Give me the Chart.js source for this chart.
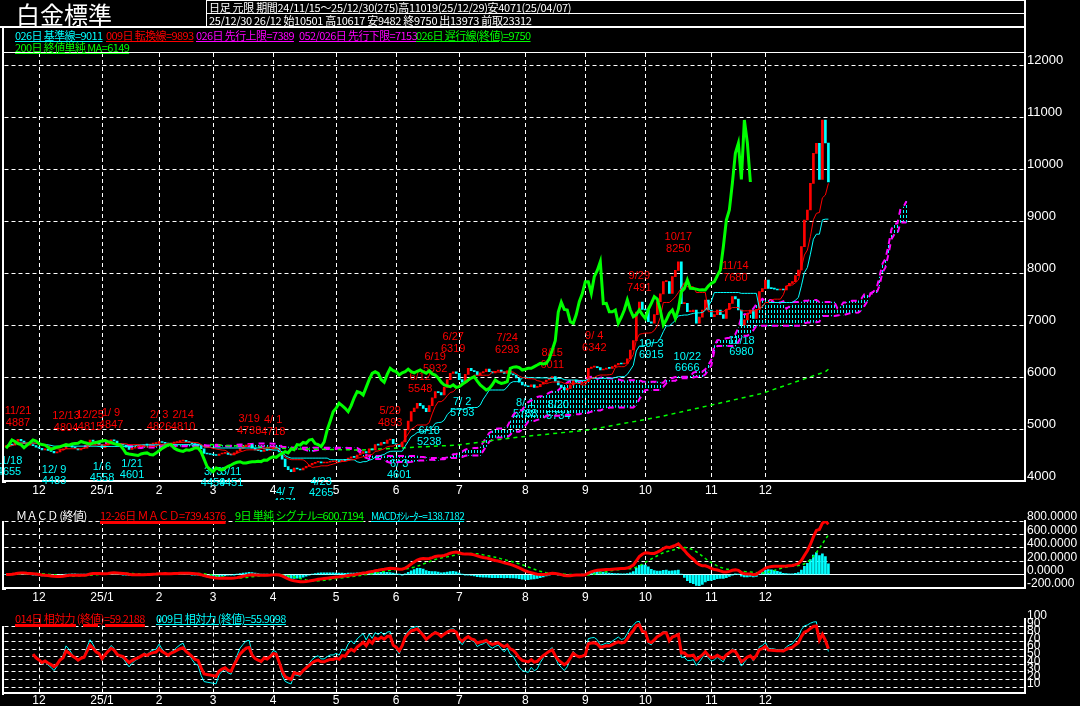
<!DOCTYPE html>
<html lang="ja">
<head>
<meta charset="utf-8">
<title>白金標準</title>
<script src="https://cdn.jsdelivr.net/npm/chart.js@4.4.1/dist/chart.umd.min.js"></script>
<style>
  html, body { margin: 0; padding: 0; background: #000; }
  body { position: relative; width: 1080px; height: 706px; overflow: hidden; font-family: "Noto Sans CJK JP", sans-serif; }
  canvas { position: absolute; left: 0; }
  #mainChart { top: 0; }
  #macdChart { top: 500px; }
  #rsiChart { top: 606px; }
  .t { position: absolute; white-space: nowrap; font-size: 11px; line-height: 12px; letter-spacing: -0.6px; color: #fff; z-index: 2; }
  .u { text-decoration: underline; text-underline-offset: 1px; }
  .thick { text-decoration-thickness: 3px; }
  .ln { position: absolute; background: #fff; z-index: 2; }
  .title { position: absolute; left: 16px; top: 0; font-size: 24px; line-height: 27px; color: #fff; z-index: 2; }
</style>
</head>
<body>
<canvas id="mainChart" width="1080" height="500"></canvas>
<canvas id="macdChart" width="1080" height="106"></canvas>
<canvas id="rsiChart" width="1080" height="100"></canvas>

<div class="title">白金標準</div>

<!-- header box and panel borders -->
<div class="ln" style="left:206px;top:0;width:820px;height:1px"></div>
<div class="ln" style="left:206px;top:13px;width:820px;height:1px"></div>
<div class="ln" style="left:0;top:26px;width:1026px;height:2px"></div>
<div class="ln" style="left:206px;top:0;width:1px;height:27px"></div>
<div class="ln" style="left:1024px;top:0;width:2px;height:54px"></div>
<div class="ln" style="left:2px;top:52px;width:1024px;height:1px"></div>
<div class="ln" style="left:2px;top:27px;width:2px;height:456px"></div>
<div class="ln" style="left:2px;top:481px;width:4px;height:2px"></div>
<div class="ln" style="left:2px;top:521px;width:2px;height:69px"></div>
<div class="ln" style="left:2px;top:588px;width:4px;height:2px"></div>
<div class="ln" style="left:2px;top:626px;width:2px;height:69px"></div>
<div class="ln" style="left:2px;top:692px;width:4px;height:2px"></div>

<div class="t" style="left:209px;top:1px;letter-spacing:-0.3px">日足 元限 期間24/11/15～25/12/30(275)高11019(25/12/29)安4071(25/04/07)</div>
<div class="t" style="left:209px;top:14px;letter-spacing:-0.3px">25/12/30 26/12 始10501 高10617 安9482 終9750 出13973 前取23312</div>

<div class="t u" style="left:15px;top:29px;color:#00ffff">026日 基準線=9011</div>
<div class="t u" style="left:106px;top:29px;color:#ff0000">009日 転換線=9893</div>
<div class="t u" style="left:196px;top:29px;color:#ff00ff">026日 先行上限=7389</div>
<div class="t u" style="left:299px;top:29px;color:#ff00ff">052/026日 先行下限=7153</div>
<div class="t u" style="left:416px;top:29px;color:#00ff00">026日 遅行線(終値)=9750</div>
<div class="t u" style="left:15px;top:41px;color:#00ff00">200日 終値単純 MA=6149</div>

<div class="t" style="left:16px;top:509px">ＭＡＣＤ (終値)</div>
<div class="t u thick" style="left:100px;top:509px;color:#ff0000">12-26日 ＭＡＣＤ=739.4376</div>
<div class="t u" style="left:235px;top:509px;color:#00ff00">9日 単純 シグナル=600.7194</div>
<div class="t u" style="left:371px;top:510px;color:#00ffff;font-size:10px">MACDｵｼﾚｰﾀｰ=138.7182</div>

<div class="t u thick" style="left:15px;top:612px;color:#ff0000">014日 相対力 (終値)=59.2188</div>
<div class="t u" style="left:156px;top:612px;color:#00ffff">009日 相対力 (終値)=55.9098</div>

<script>
const closes = [
    // 2024 Nov
    4660, 4700, 4690, 4760, 4800, 4770, 4720, 4690, 4700, 4680, 4650,
    // Dec
    4630, 4600, 4615, 4590, 4570, 4540, 4560, 4600, 4620, 4700, 4680,
    4650, 4630, 4600, 4620, 4629, 4700, 4788, 4760, 4720, 4700,
    // 2025 Jan
    4640, 4690, 4740, 4790, 4770, 4720, 4700, 4690, 4650, 4608,
    4630, 4650, 4660, 4680, 4700, 4690, 4710, 4720, 4725,
    // Feb
    4760, 4740, 4725, 4710, 4730, 4740, 4756, 4770, 4780,
    4756, 4740, 4720, 4700, 4692, 4620, 4532, 4520, 4510,
    // Mar
    4500, 4490, 4520, 4532, 4540, 4510, 4500, 4540, 4580, 4628,
    4660, 4692, 4700, 4635, 4600, 4583, 4570, 4600, 4590, 4610,
    // Apr
    4640, 4635, 4560, 4420, 4276, 4220, 4180, 4250, 4230, 4212, 4250,
    4280, 4308, 4340, 4360, 4371, 4346, 4346, 4360, 4371, 4371,
    // May
    4380, 4372, 4404, 4398, 4440, 4467, 4455, 4500, 4530, 4564,
    4540, 4620, 4600, 4700, 4690, 4740, 4725, 4788, 4800, 4720,
    // Jun
    4700, 4660, 4750, 4980, 5150, 5333, 5400, 5494, 5450, 5398, 5333,
    5450, 5600, 5718, 5700, 5654, 5800, 5950, 6071, 6100, 6071,
    // Jul
    5950, 5900, 6050, 6167, 6120, 6103, 6038, 6080, 6103, 6150, 6103,
    6080, 6110, 6134, 6100, 6071, 6120, 6060, 6038, 5980, 5900, 5846,
    // Aug
    5830, 5813, 5850, 5800, 5813, 5860, 5900, 5942, 5980, 6006,
    5920, 5846, 5800, 5750, 5780, 5850, 5942, 5900, 5878, 5890,
    // Sep
    5910, 6167, 6190, 6198, 6180, 6134, 6150, 6170, 6167, 6200,
    6230, 6263, 6250, 6263, 6350, 6519, 6700, 7250, 7440, 7300,
    // Oct
    7288, 7063, 7033, 7200, 7448, 7600, 7833, 7833, 7609, 7929, 8050,
    8217, 7410, 7417, 7256, 7256, 7288, 7033, 7150, 7288, 7480, 7288,
    // Nov
    7160, 7200, 7288, 7200, 7128, 7300, 7417, 7545, 7500,
    7288, 7000, 7100, 7224, 7288, 7128, 7300, 7641, 7700,
    // Dec
    7865, 7705, 7700, 7690, 7673, 7680, 7673, 7750, 7801, 7833, 7950,
    8058, 8506, 9019, 9212, 9724, 10301, 10494, 9800, 10942, 10501, 9750
];

// month ticks (session index of the first trading day)
const monthIdx = [11, 32, 51, 69, 89, 110, 130, 151, 173, 193, 213, 235, 253];
const monthText = ['12', '25/1', '2', '3', '4', '5', '6', '7', '8', '9', '10', '11', '12'];

// value-axis ticks
const priceTicks = [4000, 5000, 6000, 7000, 8000, 9000, 10000, 11000, 12000];
const macdTicks = [-200, 0, 200, 400, 600, 800];
const rsiTicks = [10, 20, 30, 40, 50, 60, 70, 80, 90, 100];

// 200-day MA (read at a few points)
const ma200Idx = [68, 95, 118, 150, 159, 172, 194, 218, 238, 252, 273, 274];
const ma200Val = [4700, 4620, 4596, 4690, 4756, 4852, 4980, 5237, 5500, 5686, 6102, 6149];

// marked highs / lows
const hiIdx = [4, 20, 28, 35, 51, 59, 81, 89, 128, 138, 143, 149, 167, 182, 196, 211, 224, 243];
const hiVal = [4887, 4804, 4815, 4847, 4826, 4810, 4738, 4718, 4893, 5548, 5932, 6319, 6293, 6011, 6342, 7491, 8250, 7680];
const hiDate = ['11/21', '12/13', '12/25', '1/ 9', '2/ 3', '2/14', '3/19', '4/ 1', '5/29', '6/12', '6/19', '6/27', '7/24', '8/15', '9/ 4', '9/29', '10/17', '11/14'];
const loIdx = [1, 16, 32, 42, 69, 75, 93, 105, 131, 141, 152, 173, 184, 215, 227, 245];
const loVal = [4655, 4483, 4558, 4601, 4459, 4451, 4071, 4265, 4601, 5238, 5793, 5788, 5734, 6915, 6666, 6980];
const loDate = ['11/18', '12/ 9', '1/ 6', '1/21', '3/ 3', '3/11', '4/ 7', '4/23', '6/ 3', '6/18', '7/ 2', '8/ 1', '8/20', '10/ 3', '10/22', '11/18'];

const SLOTS = 340;
const LEAD = 26;
const RED = '#ff0000', CYAN = '#00ffff', MAGENTA = '#ff00ff', GREEN = '#00ff00', WHITE = '#ffffff';

const blank = () => new Array(SLOTS).fill(null);
const slotLabels = new Array(SLOTS).fill('');
monthIdx.forEach((s, i) => { slotLabels[s] = monthText[i]; });

const opens = closes.map((c, i) => (i === 0 ? c : closes[i - 1]));

function windowMid(d, n) {
    let hi = -Infinity, lo = Infinity;
    for (let i = Math.max(0, d - n + 1); i <= d; i++) {
        hi = Math.max(hi, opens[i], closes[i]);
        lo = Math.min(lo, opens[i], closes[i]);
    }
    return (hi + lo) / 2;
}

// Ichimoku
const tenkan = blank(), kijun = blank(), spanUp = blank(), spanDn = blank(), cloud = blank(), chikou = blank();
const candles = blank(), candleColors = new Array(SLOTS).fill(RED);
closes.forEach((c, d) => {
    tenkan[d] = windowMid(d, 9);
    kijun[d] = windowMid(d, 26);
    const a = (tenkan[d] + kijun[d]) / 2;
    const b = windowMid(d, 52);
    spanUp[d + LEAD] = Math.max(a, b);
    spanDn[d + LEAD] = Math.min(a, b);
    cloud[d + LEAD] = [spanDn[d + LEAD], spanUp[d + LEAD]];
    if (d >= LEAD) chikou[d - LEAD] = c;
    candles[d] = [opens[d], c];
    candleColors[d] = c >= opens[d] ? RED : CYAN;
});

const ma200 = blank();
ma200Idx.forEach((s, i) => { ma200[s] = ma200Val[i]; });

// MACD 12-26, simple 9 signal
const macd = blank(), signal = blank(), hist = blank();
let e12 = closes[0], e26 = closes[0];
closes.forEach((c, d) => {
    e12 += (c - e12) * 2 / 13;
    e26 += (c - e26) * 2 / 27;
    macd[d] = e12 - e26;
    const from = Math.max(0, d - 8);
    let sum = 0;
    for (let i = from; i <= d; i++) sum += macd[i];
    signal[d] = sum / (d - from + 1);
    hist[d] = macd[d] - signal[d];
});

// relative strength (smoothed averages of gains / losses), shown once the window has filled
function rsi(n) {
    const out = blank();
    let up = 0, dn = 0;
    for (let d = 1; d < closes.length; d++) {
        const ch = closes[d] - closes[d - 1];
        const k = Math.min(d, n);
        up = (up * (k - 1) + Math.max(ch, 0)) / k;
        dn = (dn * (k - 1) + Math.max(-ch, 0)) / k;
        if (d >= 9) out[d] = up + dn === 0 ? 50 : up / (up + dn) * 100;
    }
    return out;
}
const rsi14 = rsi(14), rsi9 = rsi(9);

Chart.defaults.elements.point.radius = 0;
Chart.defaults.elements.line.tension = 0;
Chart.defaults.color = WHITE;

const narrow = size => ({ family: '"Liberation Sans Narrow", "Liberation Sans", sans-serif', size: size });
const fixedTicks = list => (s => { s.ticks = list.map(v => ({ value: v })); });

const xScale = (height, pad) => ({
    type: 'category',
    offset: true,
    grid: {
        offset: false,
        drawTicks: false,
        color: WHITE,
        lineWidth: ctx => (ctx.tick && ctx.tick.label ? 1 : 0)
    },
    border: { color: WHITE, width: 2, dash: [4, 3] },
    ticks: { autoSkip: false, maxRotation: 0, minRotation: 0, padding: pad, color: WHITE, font: narrow(12) },
    afterFit: s => { s.height = height; }
});

const baseOptions = (padTop, scales) => ({
    responsive: false,
    animation: false,
    devicePixelRatio: 1,
    events: [],
    layout: { padding: { left: 4.5, top: padTop, right: 0, bottom: 0 } },
    plugins: { legend: { display: false }, tooltip: { enabled: false } },
    scales: scales
});

// high / low text marks
const priceLabels = {
    id: 'priceLabels',
    beforeDatasetsDraw(chart) {
        const { ctx, scales: { x, y } } = chart;
        ctx.save();
        ctx.font = '11px "Liberation Sans", sans-serif';
        ctx.textAlign = 'center';
        ctx.textBaseline = 'bottom';
        ctx.fillStyle = RED;
        hiIdx.forEach((d, i) => {
            const px = x.getPixelForValue(d);
            const py = y.getPixelForValue(hiVal[i]);
            ctx.fillText(hiDate[i], px, py - 18);
            ctx.fillText(String(hiVal[i]), px, py - 6);
        });
        ctx.textBaseline = 'top';
        ctx.fillStyle = CYAN;
        loIdx.forEach((d, i) => {
            const px = x.getPixelForValue(d);
            const py = y.getPixelForValue(loVal[i]);
            ctx.fillText(loDate[i], px, py + 9);
            ctx.fillText(String(loVal[i]), px, py + 20);
        });
        ctx.restore();
    }
};

// cloud hatch: short vertical cyan dashes, one column per session
const mainCtx = document.getElementById('mainChart').getContext('2d');
const tile = document.createElement('canvas');
tile.width = 3;
tile.height = 5;
const tg = tile.getContext('2d');
tg.fillStyle = CYAN;
tg.fillRect(0, 0, 1, 3);
const hatch = mainCtx.createPattern(tile, 'repeat');

new Chart(mainCtx, {
    type: 'bar',
    data: {
        labels: slotLabels,
        datasets: [
            { type: 'line', data: chikou, borderColor: GREEN, borderWidth: 3, order: 0 },
            { type: 'line', data: tenkan, borderColor: RED, borderWidth: 1, order: 1 },
            { type: 'line', data: kijun, borderColor: CYAN, borderWidth: 1, order: 2 },
            { type: 'bar', data: candles, backgroundColor: candleColors, barThickness: 2, minBarLength: 1, grouped: false, order: 3 },
            { type: 'line', data: ma200, borderColor: GREEN, borderWidth: 1.5, borderDash: [4, 4], spanGaps: true, order: 4 },
            { type: 'line', data: spanUp, borderColor: MAGENTA, borderWidth: 2, borderDash: [6, 5], order: 5 },
            { type: 'line', data: spanDn, borderColor: MAGENTA, borderWidth: 2, borderDash: [6, 5], order: 5 },
            { type: 'bar', data: cloud, backgroundColor: hatch, barPercentage: 1, categoryPercentage: 1, grouped: false, order: 6 }
        ]
    },
    options: baseOptions(53, {
        x: xScale(19, 2),
        y: {
            position: 'right',
            min: 4000,
            max: 12231,
            afterBuildTicks: fixedTicks(priceTicks),
            grid: { color: WHITE, lineWidth: 1, drawTicks: false },
            border: { color: WHITE, width: 2, dash: [4, 3] },
            ticks: { autoSkip: false, padding: 2, labelOffset: -5, color: WHITE, font: narrow(13), callback: v => String(v) },
            afterFit: s => { s.width = 55; }
        }
    }),
    plugins: [priceLabels]
});

new Chart(document.getElementById('macdChart'), {
    type: 'bar',
    data: {
        labels: slotLabels,
        datasets: [
            { type: 'line', data: macd, borderColor: RED, borderWidth: 3, order: 0 },
            { type: 'line', data: signal, borderColor: GREEN, borderWidth: 1.5, borderDash: [3, 3], order: 1 },
            { type: 'bar', data: hist, backgroundColor: CYAN, barThickness: 2, grouped: false, order: 2 }
        ]
    },
    options: baseOptions(21, {
        x: xScale(18, 2),
        y: {
            position: 'right',
            min: -200,
            max: 800,
            afterBuildTicks: fixedTicks(macdTicks),
            grid: { color: WHITE, lineWidth: 1, drawTicks: false },
            border: { color: WHITE, width: 2, dash: ctx => (ctx.tick && ctx.tick.value === 0 ? [] : [4, 3]) },
            ticks: {
                autoSkip: false, padding: 2, labelOffset: -4, color: WHITE, font: narrow(12),
                callback: v => { const s = v.toFixed(4); return s.length > 8 ? s.slice(0, 8) : s; }
            },
            afterFit: s => { s.width = 55; }
        }
    })
});

new Chart(document.getElementById('rsiChart'), {
    type: 'line',
    data: {
        labels: slotLabels,
        datasets: [
            { data: rsi14, borderColor: RED, borderWidth: 3, order: 0 },
            { data: rsi9, borderColor: CYAN, borderWidth: 1, order: 1 }
        ]
    },
    options: baseOptions(12.6, {
        x: xScale(12.8, 0),
        y: {
            position: 'right',
            min: 2,
            max: 100,
            afterBuildTicks: fixedTicks(rsiTicks),
            grid: { color: WHITE, drawTicks: false, lineWidth: ctx => (ctx.tick && ctx.tick.value === 100 ? 0 : 1) },
            border: { color: WHITE, width: 2, dash: [4, 3] },
            ticks: { autoSkip: false, padding: 2, labelOffset: -3, color: WHITE, font: narrow(12), callback: v => String(v) },
            afterFit: s => { s.width = 55; }
        }
    })
});
</script>
</body>
</html>
